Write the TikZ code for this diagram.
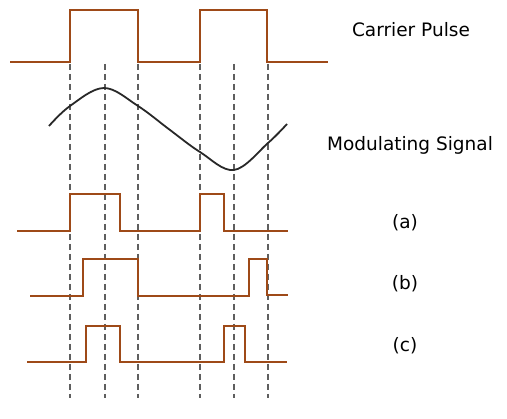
\documentclass[tikz,border=0pt]{standalone}
\usepackage{fontspec}
\setmainfont{DejaVu Sans}
\definecolor{pulsebrown}{RGB}{158,74,24}
\definecolor{guidegrey}{RGB}{95,95,95}
\definecolor{sinegrey}{RGB}{40,40,40}
\tikzset{
pulse/.style={draw=pulsebrown, line width=2pt},
guide/.style={draw=guidegrey, line width=1.8pt, dash pattern=on 6pt off 4pt},
signal/.style={draw=sinegrey, line width=1.8pt},
caption/.style={font=\fontsize{18.5}{21}\selectfont, inner sep=0pt}
}
\begin{document}
\begin{tikzpicture}[x=1pt,y=-1pt]
  \useasboundingbox (0,0) rectangle (507,419);
  % sampling instants
  \foreach \t in {70,105,138,200,234,268}
    \draw[guide] (\t,64) -- (\t,398);
  % carrier
  \draw[pulse] (10,62) -- (70,62) -- (70,10) -- (138,10) -- (138,62) -- (200,62) -- (200,10) -- (267,10) -- (267,62) -- (328,62);
  % modulating signal
  \draw[signal] plot[smooth, tension=0.6] coordinates {(49,126) (70,106) (104,88) (138,106) (170,130) (200,152) (234,170) (268,143) (287,124)};
  % (a)
  \draw[pulse] (17,231) -- (70,231) -- (70,194) -- (120,194) -- (120,231) -- (200,231) -- (200,194) -- (224,194) -- (224,231) -- (288,231);
  % (b)
  \draw[pulse] (30,296) -- (83,296) -- (83,259) -- (138,259) -- (138,296) -- (249,296) -- (249,259) -- (267,259) -- (267,295) -- (288,295);
  % (c)
  \draw[pulse] (27,362) -- (86,362) -- (86,326) -- (120,326) -- (120,362) -- (224,362) -- (224,326) -- (245,326) -- (245,362) -- (287,362);
  % labels
  \node[caption] (carrier) at (411,30) {Carrier Pulse};
  \node[caption] (modsig) at (410,145) {Modulating Signal};
  \node[caption] (laba) at (405,223) {(a)};
  \node[caption] (labb) at (405,284) {(b)};
  \node[caption] (labc) at (405,346) {(c)};
\end{tikzpicture}
\end{document}
